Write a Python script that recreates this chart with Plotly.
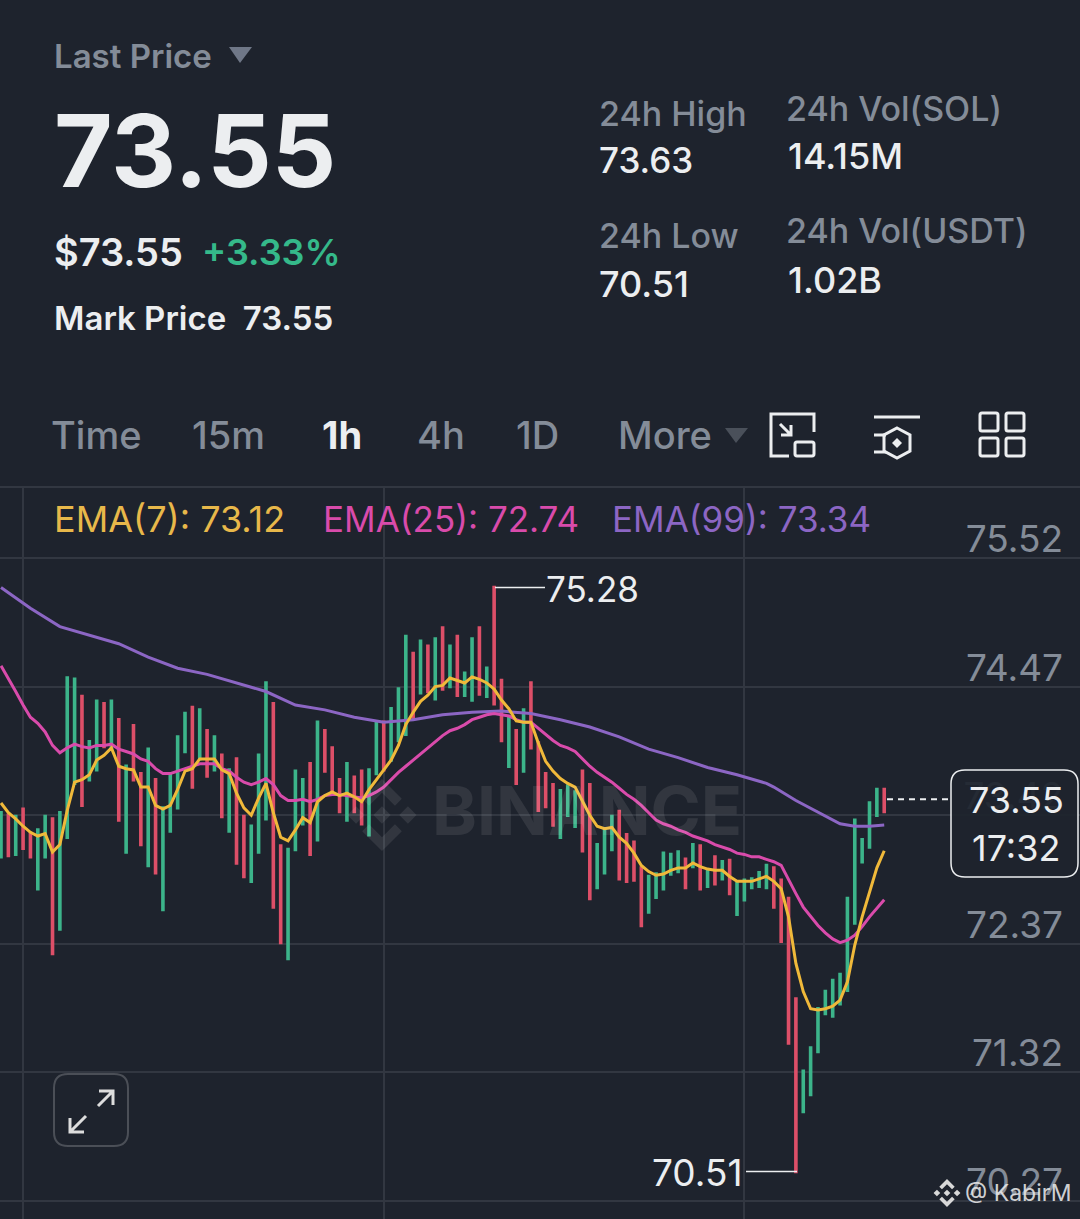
"""
SOL/USDT 1h candles with EMA lines, dark exchange app screen.
"""
import plotly.graph_objects as go

W, H = 1080, 1219
BG = '#1e232d'
GREEN = '#3cb48a'
RED = '#dd4f68'
GREY = '#848c98'
WHITE = '#eceef0'
GRID = '#323741'
FONT = 'Inter'

price_ticks = [70.27, 71.32, 72.37, 73.42, 74.47, 75.52]
time_ticks = [3, 52, 101]

directions = (
    'g r g r r g g r g g '
    'g r g g r g r g r r '
    'g r g g g g r g r g '
    'r g r r g g g r r g '
    'g g r g r r r g r r '
    'g g r g g g r g r g '
    'r g r g g r g r r g '
    'r g r r r r g g g r '
    'r g g g r r r r g g '
    'g g g r g r g r g r '
    'g g g g g r r r r g '
    'g g g g g g g g g g '
    'r'
).split()

highs = [
    73.44, 73.42, 73.41, 73.47, 73.27, 73.30, 73.41, 73.39, 73.44, 74.54,
    74.53, 74.39, 74.02, 74.35, 74.33, 74.35, 74.20, 73.82, 74.15, 73.76,
    73.96, 73.71, 73.48, 73.76, 74.06, 74.25, 74.30, 74.28, 74.11, 74.06,
    73.91, 73.79, 73.88, 73.41, 73.33, 73.91, 74.50, 74.33, 73.17, 73.14,
    73.78, 73.71, 73.84, 74.18, 74.11, 73.97, 73.71, 73.84, 73.73, 73.78,
    73.79, 74.18, 74.18, 74.29, 74.45, 74.88, 74.74, 74.84, 74.80, 74.86,
    74.95, 74.80, 74.88, 74.58, 74.86, 74.95, 74.62, 75.28, 74.52, 74.22,
    74.11, 74.28, 74.50, 74.01, 73.76, 73.67, 73.62, 73.66, 73.61, 73.78,
    73.67, 73.18, 73.31, 73.41, 73.45, 73.26, 73.20, 72.99, 72.92, 72.94,
    73.11, 73.10, 73.12, 73.06, 73.18, 73.17, 72.97, 73.08, 73.04, 73.05,
    72.86, 72.89, 72.90, 72.95, 73.01, 72.99, 72.89, 72.74, 71.92, 71.33,
    71.52, 71.84, 71.98, 72.07, 72.12, 72.74, 73.38, 73.22, 73.52, 73.63,
    73.63,
]
lows = [
    73.08, 73.09, 73.10, 73.15, 73.08, 72.82, 73.08, 72.29, 72.49, 73.24,
    73.68, 73.50, 73.71, 73.79, 73.98, 73.97, 73.38, 73.12, 73.71, 73.18,
    73.01, 72.95, 72.65, 73.29, 73.48, 73.94, 73.65, 73.88, 73.74, 73.79,
    73.41, 73.29, 73.03, 72.92, 72.88, 73.12, 73.39, 72.67, 72.38, 72.25,
    73.14, 73.35, 73.10, 73.22, 73.78, 73.63, 73.45, 73.38, 73.45, 73.35,
    73.26, 73.76, 73.79, 73.87, 74.03, 74.08, 74.22, 74.42, 74.43, 74.37,
    74.45, 74.47, 74.40, 74.40, 74.36, 74.41, 74.39, 74.33, 74.03, 73.82,
    73.68, 73.78, 73.97, 73.46, 73.49, 73.34, 73.24, 73.42, 73.33, 73.13,
    72.74, 72.83, 72.95, 73.14, 72.90, 72.88, 72.89, 72.52, 72.63, 72.75,
    72.82, 72.94, 72.96, 72.83, 73.00, 72.82, 72.84, 72.86, 72.90, 72.78,
    72.61, 72.73, 72.83, 72.84, 72.83, 72.67, 72.39, 71.56, 70.51, 71.00,
    71.14, 71.49, 71.80, 71.78, 71.88, 71.99, 72.54, 73.04, 73.16, 73.42,
    73.45,
]
ema7 = [
    73.52, 73.44, 73.39, 73.33, 73.28, 73.25, 73.27, 73.12, 73.18, 73.46,
    73.69, 73.71, 73.75, 73.87, 73.91, 73.97, 73.82, 73.80, 73.79, 73.65,
    73.65, 73.50, 73.47, 73.50, 73.63, 73.78, 73.80, 73.88, 73.88, 73.88,
    73.79, 73.76, 73.60, 73.48, 73.42, 73.56, 73.68, 73.44, 73.24, 73.21,
    73.30, 73.40, 73.36, 73.53, 73.58, 73.61, 73.58, 73.60, 73.57, 73.53,
    73.63, 73.71, 73.78, 73.87, 73.99, 74.16, 74.26, 74.35, 74.40, 74.47,
    74.48, 74.54, 74.52, 74.50, 74.55, 74.53, 74.50, 74.45, 74.36, 74.29,
    74.19, 74.18, 74.18, 74.01, 73.86, 73.78, 73.72, 73.68, 73.65, 73.54,
    73.42, 73.33, 73.31, 73.32, 73.24, 73.19, 73.11, 73.01, 72.96, 72.93,
    72.94, 72.97, 72.99, 72.99, 73.03, 73.00, 72.98, 72.97, 72.97, 72.92,
    72.88, 72.88, 72.88, 72.90, 72.92, 72.88, 72.82, 72.59, 72.21, 71.98,
    71.84, 71.83, 71.84, 71.86, 71.91, 72.06, 72.36, 72.59, 72.80, 72.99,
    73.13,
]
ema25 = [
    74.64, 74.54, 74.43, 74.32, 74.22, 74.17, 74.10, 73.99, 73.93, 73.97,
    74.00, 73.98, 73.97, 73.99, 73.99, 74.00, 73.96, 73.94, 73.92, 73.88,
    73.86, 73.80, 73.76, 73.76, 73.78, 73.80, 73.82, 73.84, 73.84, 73.84,
    73.80, 73.78, 73.73, 73.69, 73.67, 73.69, 73.72, 73.67, 73.58, 73.54,
    73.54, 73.55, 73.53, 73.55, 73.58, 73.59, 73.59, 73.58, 73.57, 73.56,
    73.58, 73.61, 73.65, 73.71, 73.77, 73.82, 73.87, 73.92, 73.97, 74.02,
    74.07, 74.11, 74.13, 74.16, 74.20, 74.22, 74.24, 74.25, 74.24, 74.23,
    74.20, 74.18, 74.18, 74.13, 74.08, 74.03, 73.99, 73.97, 73.94, 73.88,
    73.82, 73.77, 73.73, 73.69, 73.64, 73.59, 73.55, 73.50, 73.44, 73.38,
    73.35, 73.33, 73.30, 73.28, 73.25, 73.23, 73.21, 73.18, 73.16, 73.14,
    73.11, 73.10, 73.08, 73.08, 73.06, 73.04, 73.01, 72.89, 72.78, 72.67,
    72.59, 72.52, 72.46, 72.41, 72.38, 72.40, 72.44, 72.51, 72.59, 72.66,
    72.73,
]
ema99_x = [0, 4, 8, 12, 16, 20, 24, 28, 32, 36, 40, 44, 48, 52, 56, 60, 64,
           68, 72, 76, 80, 84, 88, 92, 96, 100, 104, 105, 108, 112, 114, 116,
           118, 120]
ema99 = [75.28, 75.11, 74.96, 74.89, 74.82, 74.71, 74.62, 74.57, 74.50, 74.43,
         74.32, 74.28, 74.22, 74.18, 74.20, 74.24, 74.26, 74.27, 74.25, 74.20,
         74.14, 74.06, 73.96, 73.89, 73.81, 73.75, 73.68, 73.65, 73.54, 73.41,
         73.35, 73.33, 73.33, 73.34]

last_price = 73.55
top_price, low_price = 75.28, 70.51


def fx(x):
    return x / W


def fy(y):
    return 1 - y / H


def path(d):
    "Turn an svg path in screen pixels into paper coordinates"
    out, is_x = [], True
    for tok in d.split():
        if tok.isalpha():
            out.append(tok)
        else:
            out.append(f'{fx(float(tok)) if is_x else fy(float(tok)):.5f}')
            is_x = not is_x
    return ' '.join(out)


def rrect(x0, y0, x1, y1, r):
    return (f'M {x0+r} {y0} L {x1-r} {y0} Q {x1} {y0} {x1} {y0+r} L {x1} {y1-r} '
            f'Q {x1} {y1} {x1-r} {y1} L {x0+r} {y1} Q {x0} {y1} {x0} {y1-r} '
            f'L {x0} {y0+r} Q {x0} {y0} {x0+r} {y0} Z')


shapes = []


def stroke(d, color=WHITE, width=3, fill=None):
    shapes.append(dict(type='path', xref='paper', yref='paper', path=path(d),
                       line=dict(color=color, width=width),
                       fillcolor=fill or 'rgba(0,0,0,0)', layer='above'))


def logo(cx, cy, r, color):
    "Four chevrons and a centre diamond"
    s = r * 0.24
    for dx in (-0.72 * r, 0, 0.72 * r):
        shapes.append(dict(type='path', xref='paper', yref='paper', line_width=0, fillcolor=color,
                           path=path(f'M {cx+dx-s} {cy} L {cx+dx} {cy-s} L {cx+dx+s} {cy} L {cx+dx} {cy+s} Z')))
    for sg in (-1, 1):
        shapes.append(dict(type='path', xref='paper', yref='paper', line_width=0, fillcolor=color, path=path(
            f'M {cx} {cy+sg*r} L {cx+.55*r} {cy+sg*.45*r} L {cx+.36*r} {cy+sg*.26*r} L {cx} {cy+sg*.62*r} '
            f'L {cx-.36*r} {cy+sg*.26*r} L {cx-.55*r} {cy+sg*.45*r} Z')))


opens = [lo if d == 'g' else hi for d, hi, lo in zip(directions, highs, lows)]
closes = [hi if d == 'g' else lo for d, hi, lo in zip(directions, highs, lows)]
candle_x = list(range(len(highs)))

fig = go.Figure()
fig.add_trace(go.Candlestick(
    x=candle_x, open=opens, high=highs, low=lows, close=closes,
    whiskerwidth=0,
    increasing=dict(line=dict(color=GREEN, width=3.4), fillcolor=GREEN),
    decreasing=dict(line=dict(color=RED, width=3.4), fillcolor=RED),
    showlegend=False))
fig.add_trace(go.Scatter(x=ema99_x, y=ema99, mode='lines', name='EMA(99)',
                         line=dict(color='#8c66c4', width=3)))
fig.add_trace(go.Scatter(x=candle_x, y=ema25, mode='lines', name='EMA(25)',
                         line=dict(color='#d94bab', width=3)))
fig.add_trace(go.Scatter(x=candle_x, y=ema7, mode='lines', name='EMA(7)',
                         line=dict(color='#f0b93a', width=3)))

annotations = []


def text(s, x, y, size, color=WHITE, weight=400, anchor='left'):
    # annotations carry about 3px of padding on the left
    x0 = x - 3 if anchor == 'left' else x
    annotations.append(dict(text=s, xref='paper', yref='paper', x=fx(x0), y=fy(y),
                            xanchor=anchor, yanchor='middle', showarrow=False,
                            font=dict(family=FONT, size=size, color=color, weight=weight)))


# header
text('Last Price', 55, 56, 33, GREY, 600)
text('73.55', 55, 150, 101, WHITE, 700)
text('$73.55', 55, 252, 38, WHITE, 600)
text('+3.33%', 203, 252, 36, '#35b98a', 600)
text('Mark Price&nbsp; 73.55', 55, 318, 33, WHITE, 600)
text('24h High', 600, 113, 34, GREY, 500)
text('73.63', 600, 160, 35, WHITE, 500)
text('24h Low', 600, 235, 34, GREY, 500)
text('70.51', 600, 284, 36, WHITE, 500)
text('24h Vol(SOL)', 787, 108, 34, GREY, 500)
text('14.15M', 789, 156, 36, WHITE, 500)
text('24h Vol(USDT)', 787, 231, 34, GREY, 500)
text('1.02B', 789, 280, 36, WHITE, 500)

# interval tabs
for label, x, col, wt in [('Time', 52, GREY, 500), ('15m', 193, GREY, 500), ('1h', 323, WHITE, 700),
                          ('4h', 418, GREY, 500), ('1D', 517, GREY, 500), ('More', 619, GREY, 500)]:
    text(label, x, 435, 38, col, wt)

# ema legend
text('EMA(7): 73.12', 55, 519, 36, '#e8b84a')
text('EMA(25): 72.74', 324, 519, 35, '#d94bab')
text('EMA(99): 73.34', 613, 519, 35, '#8c66c4')

# watermarks
text('BINANCE', 433, 810, 68, 'rgba(255,255,255,0.09)', 700)
logo(382, 815, 36, 'rgba(255,255,255,0.09)')
logo(947, 1193, 14, '#d8d8d8')
text('@ KabirM', 966, 1193, 23, 'rgba(232,232,232,0.9)')

# extreme callouts and live price box
text('75.28', 547, 589, 35, WHITE)
text('70.51', 744, 1172, 37, WHITE, anchor='right')
text('73.55', 1016, 800, 36, WHITE, anchor='center')
text('17:32', 1016, 848, 36, WHITE, anchor='center')

shapes.append(dict(type='line', xref='paper', yref='y', x0=fx(495), x1=fx(545), y0=top_price, y1=top_price,
                   line=dict(color=WHITE, width=1.5)))
shapes.append(dict(type='line', xref='paper', yref='y', x0=fx(746), x1=fx(797), y0=low_price, y1=low_price,
                   line=dict(color=WHITE, width=1.5)))
shapes.append(dict(type='line', xref='paper', yref='y', x0=fx(887), x1=fx(950), y0=last_price, y1=last_price,
                   line=dict(color=WHITE, width=2, dash='6px,5px')))
stroke(rrect(951, 770, 1078, 877, 14), color=WHITE, width=1.5, fill='rgba(30,35,45,0.93)')

# separator above chart
stroke('M 0 487 L 1080 487', color=GRID, width=2)

# dropdown triangles
stroke('M 229 47 L 252 47 L 240 63 Z', color='#6f7787', width=0, fill='#6f7787')
stroke('M 725 428 L 748 428 L 736 443 Z', color='#4a505a', width=0, fill='#4a505a')

# toolbar icons
stroke('M 814 432 L 814 414 L 771 414 L 771 456 L 789 456')
stroke(rrect(795, 442, 814, 456, 2))
stroke('M 780 424 L 791 435 M 791 425 L 791 435 L 781 435')
stroke('M 874 417 L 920 417')
stroke('M 874 435 L 886 435 M 874 452 L 886 452')
stroke('M 897 428 L 910 435 L 910 451 L 897 458 L 884 451 L 884 435 Z')
stroke('M 897 438 L 902 443 L 897 448 L 892 443 Z', width=0, fill=WHITE)
for sx, sy in [(980, 413), (1006, 413), (980, 438), (1006, 438)]:
    stroke(rrect(sx, sy, sx + 18, sy + 18, 2))

# fullscreen button
stroke(rrect(54, 1074, 128, 1146, 14), color='rgba(255,255,255,0.2)', width=2)
stroke('M 70 1132 L 86 1116 M 70 1118 L 70 1132 L 84 1132', color='#dddddd', width=3)
stroke('M 113 1091 L 98 1106 M 99 1091 L 113 1091 L 113 1105', color='#dddddd', width=3)

chart_top = 487
fig.update_layout(
    width=W, height=H, autosize=False,
    margin=dict(l=0, r=0, t=0, b=0),
    paper_bgcolor=BG, plot_bgcolor=BG,
    showlegend=False, boxgap=0.96,
    font=dict(family=FONT),
    shapes=shapes, annotations=annotations,
    xaxis=dict(range=[-0.136, 146.6], rangeslider=dict(visible=False),
               tickvals=time_ticks, showticklabels=False, ticks='',
               showgrid=True, gridcolor=GRID, gridwidth=2, zeroline=False),
    yaxis=dict(domain=[0, 1 - chart_top / H], range=[70.123, 76.10],
               side='right', tickvals=price_ticks, tickformat='.2f',
               ticklabelposition='inside', ticklabelstandoff=14, ticklabelshift=-19,
               tickfont=dict(family=FONT, size=37, color=GREY), ticks='',
               showgrid=True, gridcolor=GRID, gridwidth=2, zeroline=False),
)

fig.write_html("out.html", config=dict(displayModeBar=False),
               post_script="document.body.style.margin='0';document.body.style.background='%s';" % BG)
